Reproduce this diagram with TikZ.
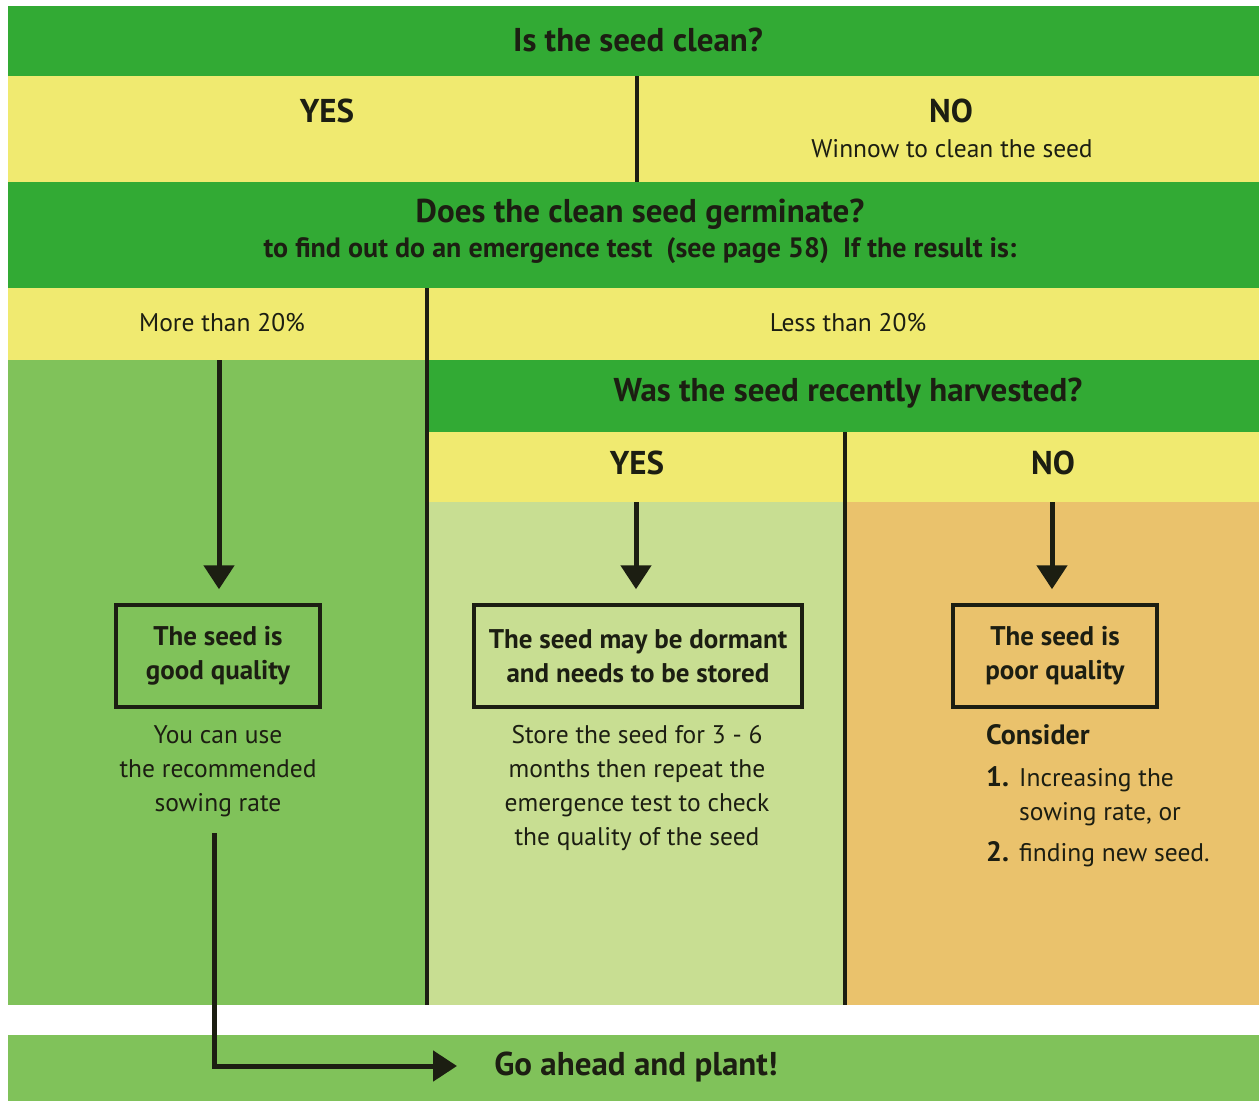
\documentclass[tikz,border=0pt]{standalone}
\usepackage{fontspec}
\setmainfont{PT Sans}
\usetikzlibrary{arrows.meta}
\definecolor{dgreen}{RGB}{50,170,52}
\definecolor{yel}{RGB}{240,234,112}
\definecolor{mgreen}{RGB}{128,194,90}
\definecolor{lgreen}{RGB}{200,222,146}
\definecolor{orng}{RGB}{234,194,108}
\definecolor{ink}{RGB}{28,30,18}
\tikzset{
  title/.style={text=ink,inner sep=0pt,font=\fontsize{33}{36}\selectfont\bfseries},
  sub/.style={text=ink,inner sep=0pt,font=\fontsize{28}{32}\selectfont\bfseries},
  body/.style={text=ink,inner sep=0pt,align=center,font=\fontsize{25.5}{34}\selectfont},
  boxlabel/.style={draw=ink,line width=3.5pt,text=ink,inner sep=0pt,align=center,
     minimum height=102pt,font=\fontsize{27}{34}\selectfont\bfseries},
  divider/.style={draw=ink,line width=3.5pt},
  flow/.style={draw=ink,line width=5pt,-{Triangle[width=30pt,length=24pt]}},
}
\begin{document}
\begin{tikzpicture}[x=1pt,y=-1pt]
\fill[white] (0,0) rectangle (1259,1101);
\useasboundingbox (0,0) rectangle (1259,1101);
% bands
\fill[dgreen] (8,6) rectangle (1259,76);
\fill[yel] (8,76) rectangle (1259,182);
\fill[dgreen] (8,182) rectangle (1259,288);
\fill[yel] (8,288) rectangle (1259,360);
\fill[mgreen] (8,360) rectangle (427,1005);
\fill[dgreen] (427,360) rectangle (1259,432);
\fill[yel] (427,432) rectangle (1259,502);
\fill[lgreen] (427,502) rectangle (845,1005);
\fill[orng] (845,502) rectangle (1259,1005);
\fill[mgreen] (8,1035) rectangle (1259,1101);
% dividers
\draw[divider] (637,76) -- (637,182);
\draw[divider] (427,288) -- (427,1005);
\draw[divider] (845,432) -- (845,1005);
% texts
\node[title,anchor=base] (q1) at (638,51) {Is the seed clean?};
\node[title,anchor=base] (yes1) at (327,122) {YES};
\node[title,anchor=base] (no1) at (951,122) {NO};
\node[body,anchor=base] (winnow) at (952,157) {Winnow to clean the seed};
\node[title,anchor=base] (q2) at (640,222) {Does the clean seed germinate?};
\node[sub,anchor=base] (q2sub) at (640,257) {to find out do an emergence test\ \ (see page 58)\ \ If the result is:};
\node[body,anchor=base] (more) at (222,331) {More than 20\%};
\node[body,anchor=base] (less) at (848,331) {Less than 20\%};
\node[title,anchor=base] (q3) at (848,401) {Was the seed recently harvested?};
\node[title,anchor=base] (yes2) at (637,474) {YES};
\node[title,anchor=base] (no2) at (1053,474) {NO};
% boxes
\node[boxlabel,minimum width=204pt] (good) at (218,656) {The seed is\\good quality};
\node[boxlabel,minimum width=328pt] (dormant) at (638,656) {The seed may be dormant\\and needs to be stored};
\node[boxlabel,minimum width=204pt] (poor) at (1055,656) {The seed is\\poor quality};
\node[body] (goodtxt) at (218,771) {You can use\\the recommended\\sowing rate};
\node[body] (dormtxt) at (637,788) {Store the seed for 3 - 6\\months then repeat the\\emergence test to check\\the quality of the seed};
\node[sub,anchor=base west] (consider) at (986,744) {Consider};
\node[sub,anchor=base west] (n1) at (986,786) {1.};
\node[body,anchor=base west] (i1) at (1019,786) {Increasing the};
\node[body,anchor=base west] (i1b) at (1019,820) {sowing rate, or};
\node[sub,anchor=base west] (n2) at (986,861) {2.};
\node[body,anchor=base west] (i2) at (1019,861) {finding new seed.};
\node[title,anchor=base] (plant) at (636,1075) {Go ahead and plant!};
% connectors
\coordinate (s1) at (219,360);
\coordinate (s2) at (636,502);
\coordinate (s3) at (1052,502);
\coordinate (s4) at (214,835);
\coordinate (e4) at (457,1066);
\draw[flow,shorten >=14pt] (s1) -- (s1 |- good.north);
\draw[flow,shorten >=14pt] (s2) -- (s2 |- dormant.north);
\draw[flow,shorten >=14pt] (s3) -- (s3 |- poor.north);
\draw[flow,line cap=rect] (s4) |- (e4);
\end{tikzpicture}
\end{document}
